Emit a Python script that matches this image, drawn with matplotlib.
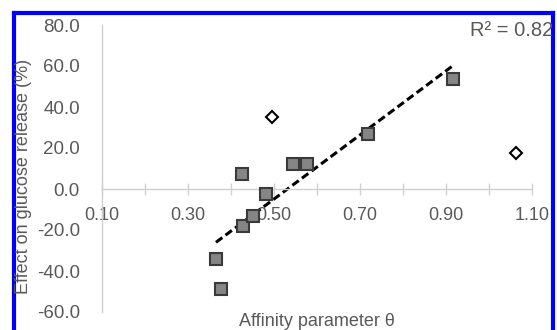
import numpy as np
import matplotlib
matplotlib.use("Agg")
import matplotlib.pyplot as plt
from matplotlib.lines import Line2D

plt.rcParams['font.family'] = ['Liberation Sans', 'DejaVu Sans']

# Data: fitted compounds (squares) and outliers (open diamonds)
theta_fit = [0.365, 0.377, 0.426, 0.428, 0.451, 0.481, 0.544, 0.577, 0.719, 0.916]
effect_fit = [-34.0, -48.8, 7.3, -18.0, -13.2, -2.4, 12.0, 12.0, 26.8, 53.7]
theta_out = [0.495, 1.063]
effect_out = [35.1, 17.6]
x_ticks = [0.10, 0.30, 0.50, 0.70, 0.90, 1.10]
y_ticks = [-60, -40, -20, 0, 20, 40, 60, 80]
r2_label = "R² = 0.82"

txt = '#595959'
fig = plt.figure(figsize=(5.57, 3.30), dpi=100)
ax = fig.add_axes([102/557, 1-312/330, 430/557, 287/330])

# trend line (least squares over the fitted set)
slope, intercept = np.polyfit(theta_fit, effect_fit, 1)
xl = np.array([min(theta_fit), max(theta_fit)])
ax.plot(xl, slope*xl + intercept, color='black', lw=2.2,
        linestyle=(0, (2.6, 1.3)), zorder=2)

ax.plot(theta_fit, effect_fit, linestyle='none', marker='s', ms=9,
        mfc='#858585', mec='#3a3a3a', mew=1.5, zorder=3)
ax.plot(theta_out, effect_out, linestyle='none', marker='D', ms=6,
        mfc='white', mec='black', mew=1.5, zorder=3)

ax.set_xlim(0.10, 1.10)
ax.set_ylim(-60, 80)
for s in ['top', 'right']:
    ax.spines[s].set_visible(False)
ax.spines['bottom'].set_position(('data', 0))
ax.spines['bottom'].set_color('#d0d0d0')
ax.spines['left'].set_color('#d0d0d0')
ax.spines['bottom'].set_linewidth(1)
ax.spines['left'].set_linewidth(1)

ax.set_xticks(x_ticks)
ax.set_xticklabels([f"{v:.2f}" for v in x_ticks])
ax.set_xticks(np.arange(0.2, 1.1, 0.2), minor=True)
ax.set_yticks(y_ticks)
ax.set_yticklabels([f"{v:.1f}" for v in y_ticks])
ax.tick_params(axis='x', which='both', direction='inout', length=8, width=1,
               color='#d0d0d0', labelsize=13, labelcolor=txt, pad=9)
ax.tick_params(axis='y', length=0, labelsize=13.5, labelcolor=txt, pad=16)

fig.text(317/557, 1-322/330, "Affinity parameter θ", ha='center', va='center',
         fontsize=13, color=txt)
fig.text(24/557, 1-176/330, "Effect on glucose release (%)", ha='center',
         va='center', rotation=90, fontsize=13, color=txt)
fig.text(553/557, 1-30/330, r2_label, ha='right', va='center',
         fontsize=14.5, color=txt)

# blue frame
bw = 3.0
fig.add_artist(Line2D([14/557, 14/557], [-0.05, 1-12.5/330], transform=fig.transFigure,
                      color='#0000ff', lw=bw, solid_capstyle='projecting'))
fig.add_artist(Line2D([14/557, 553/557], [1-12.5/330, 1-12.5/330], transform=fig.transFigure,
                      color='#0000ff', lw=bw, solid_capstyle='projecting'))
fig.add_artist(Line2D([553/557, 553/557], [-0.05, 1-12.5/330], transform=fig.transFigure,
                      color='#0000ff', lw=bw, solid_capstyle='projecting'))

fig.savefig('out.png', dpi=100)
